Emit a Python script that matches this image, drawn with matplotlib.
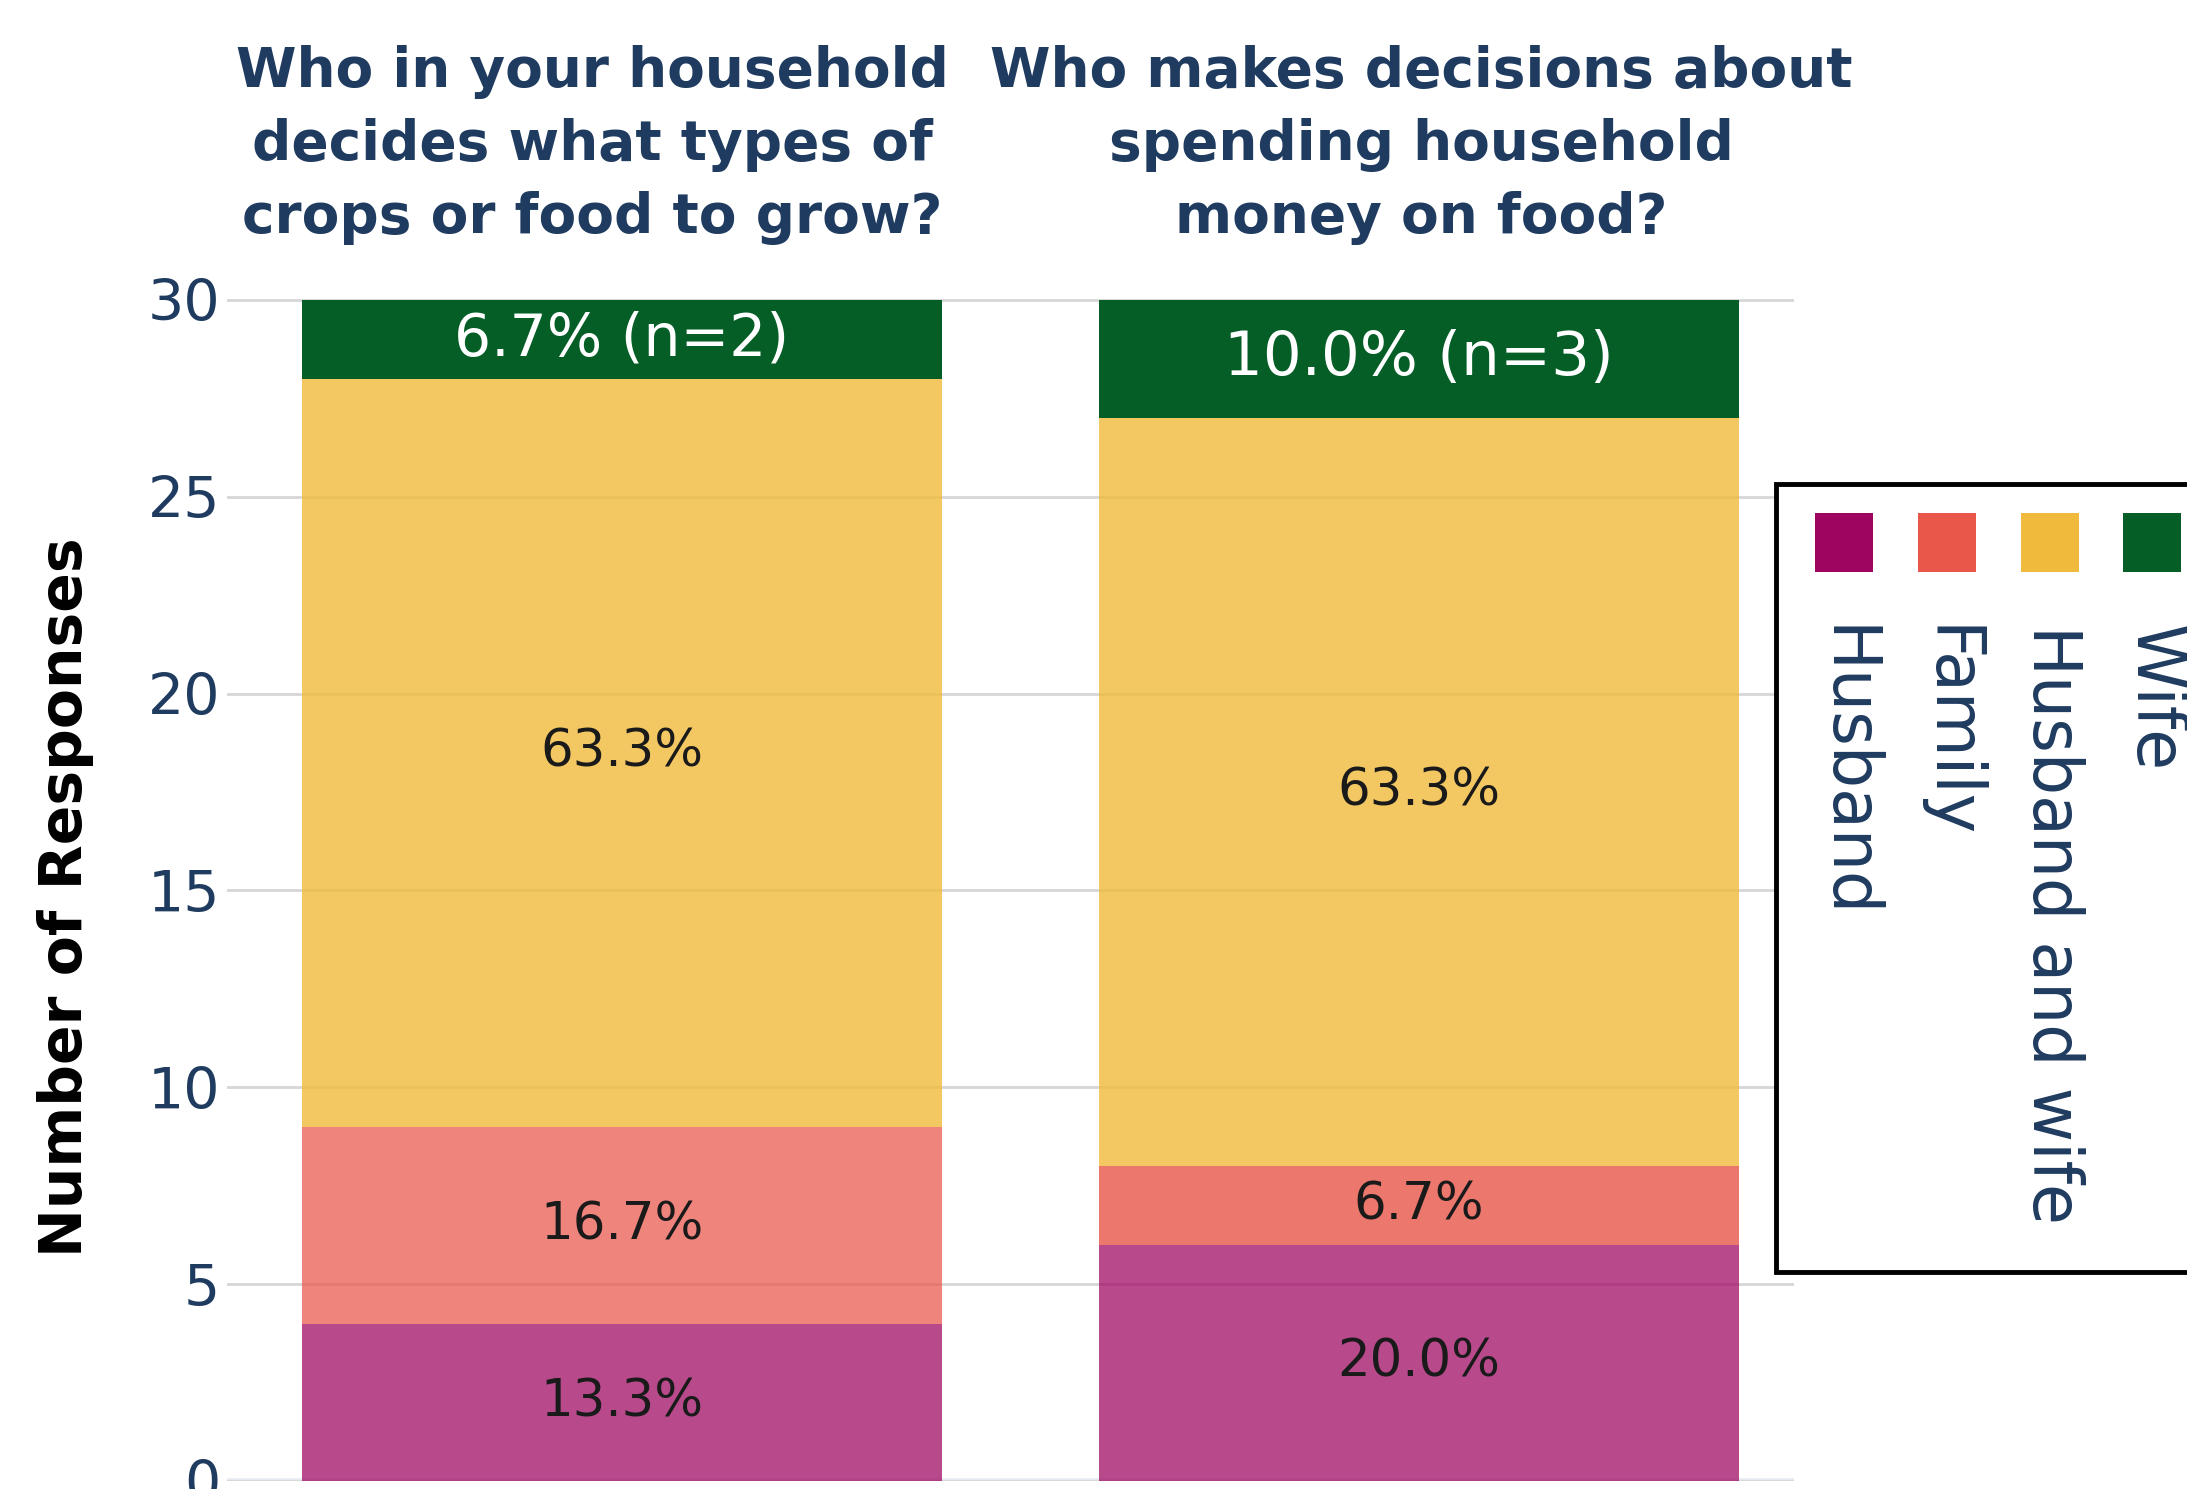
import matplotlib
matplotlib.use('Agg')
import matplotlib.pyplot as plt
from matplotlib.patches import Rectangle

# data
questions = ['Who in your household\ndecides what types of\ncrops or food to grow?',
             'Who makes decisions about\nspending household\nmoney on food?']
groups = ['Husband', 'Family', 'Husband and wife', 'Wife']
husband = [4, 6]
family = [5, 2]
husband_and_wife = [19, 19]
wife = [2, 3]
y_ticks = [0, 5, 10, 15, 20, 25, 30]

# style
colors = ['#9e0560', '#e8574a', '#f0bb3c', '#065e27']
alphas = [[0.73, 0.73, 0.80, 1.0],
          [0.73, 0.81, 0.80, 1.0]]
label_sizes = [[37, 37, 37, 42], [37, 37, 37, 44]]
navy = '#1f3b5f'

W, H = 2187, 1489
fig = plt.figure(figsize=(W / 100, H / 100), dpi=100)

def fx(px):
    return px / W

def fy(py):
    return 1 - py / H

ax = fig.add_axes([fx(227), fy(1481), fx(1794) - fx(227), fy(288) - fy(1481)])
ax.set_xlim(-0.4956, 1.4705)
ax.set_ylim(0, 30.3)

series = [husband, family, husband_and_wife, wife]
totals = [sum(s[i] for s in series) for i in range(2)]
x = [0, 1]
bottoms = [0, 0]
for k, vals in enumerate(series):
    for i in x:
        ax.bar(i, vals[i], bottom=bottoms[i], width=0.803, color=colors[k],
               alpha=alphas[i][k], linewidth=0, zorder=3)
        pct = 100 * vals[i] / totals[i]
        txt = '%.1f%%' % pct
        tcol = '#1a1a1a'
        if groups[k] == 'Wife':
            txt += ' (n=%d)' % vals[i]
            tcol = 'white'
        ax.text(i, bottoms[i] + vals[i] / 2, txt, ha='center', va='center',
                fontsize=label_sizes[i][k], color=tcol, zorder=4)
        bottoms[i] += vals[i]

ax.set_yticks(y_ticks)
ax.set_xticks([])
ax.tick_params(axis='y', length=0, pad=5, labelsize=41, labelcolor=navy)
ax.grid(axis='y', color='#d6d6d6', linewidth=2, zorder=0)
ax.axhline(0, color='#e6eaf0', linewidth=4, zorder=1)
for s in ax.spines.values():
    s.set_visible(False)

# column titles
title_x = [592, 1421]
for q, tx in zip(questions, title_x):
    fig.text(fx(tx), fy(145), q, ha='center', va='center', fontsize=39.5,
             fontweight='bold', color=navy, linespacing=1.45)

fig.text(fx(66), fy(897), 'Number of Responses', rotation=90, ha='center',
         va='center', fontsize=42, fontweight='bold', color='black')

# legend, drawn by hand with vertical text
fig.patches.append(Rectangle((fx(1776), fy(1272)), fx(2300) - fx(1776), fy(484) - fy(1272),
                             transform=fig.transFigure, facecolor='white',
                             edgecolor='black', linewidth=3.5, zorder=5))
sw_x = [1844, 1947, 2050, 2152]
for g, c, cx in zip(groups, colors, sw_x):
    fig.patches.append(Rectangle((fx(cx - 29), fy(572)), fx(58), 59 / H,
                                 transform=fig.transFigure, facecolor=c,
                                 edgecolor='none', zorder=6))
    fig.text(fx(cx + 2), fy(625), g, rotation=270, rotation_mode='anchor',
             ha='left', va='center', fontsize=48, color=navy, zorder=7)

fig.savefig('out.png', dpi=100, facecolor='white')
